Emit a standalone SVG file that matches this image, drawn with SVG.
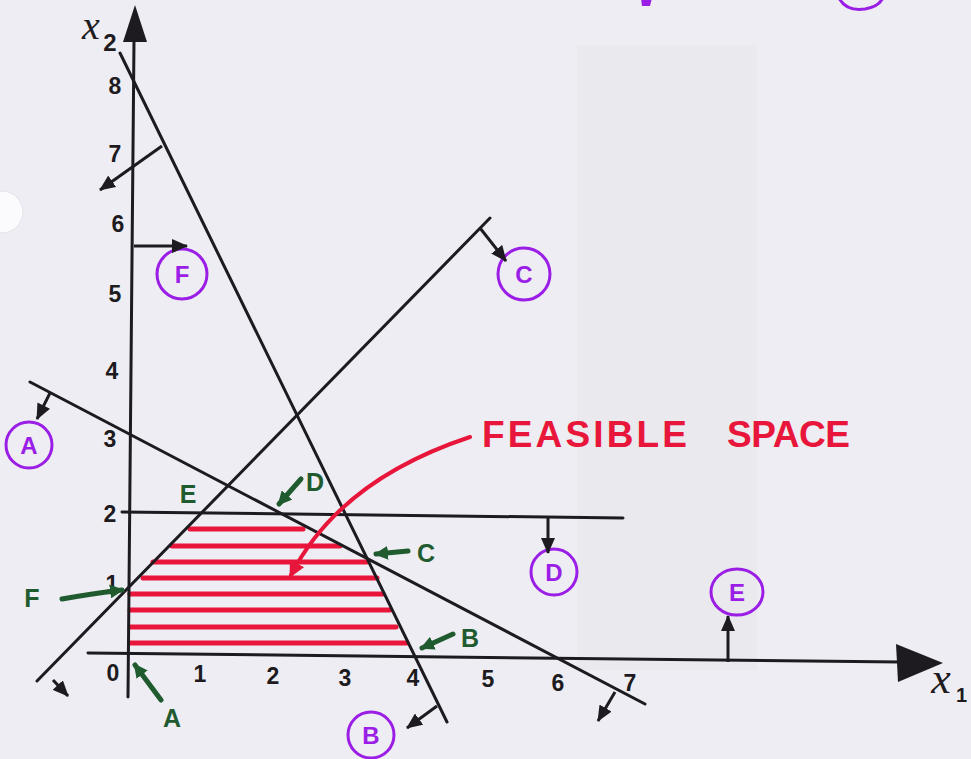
<svg xmlns="http://www.w3.org/2000/svg" width="971" height="759" viewBox="0 0 971 759">
<style>
.ln{stroke:#1d1b20;stroke-width:3;fill:none;stroke-linecap:round}
.dir{stroke:#1d1b20;stroke-width:3;fill:none;marker-end:url(#bk)}
.num{font-family:"Liberation Sans",Arial,sans-serif;font-size:23px;font-weight:bold;fill:#1d1b20;text-anchor:middle}
.pc{stroke:#9b1ee6;stroke-width:3;fill:none}
.pt{font-family:"Liberation Sans",Arial,sans-serif;font-size:24px;font-weight:bold;fill:#9b1ee6;text-anchor:middle}
.ga{stroke:#1f5b2e;stroke-width:5;fill:none;stroke-linecap:round;marker-end:url(#gr)}
.gt{font-family:"Liberation Sans",Arial,sans-serif;font-size:25px;font-weight:bold;fill:#1f5b2e;text-anchor:middle}
.hat{stroke:#e8163a;stroke-width:5;stroke-linecap:round}
</style>
<defs>
<marker id="bk" viewBox="0 0 16 14" markerWidth="16" markerHeight="14" refX="15" refY="7" orient="auto" markerUnits="userSpaceOnUse"><path d="M0,0 L16,7 L0,14 z" fill="#1d1b20"/></marker>
<marker id="gr" viewBox="0 0 14 14" markerWidth="14" markerHeight="14" refX="12" refY="7" orient="auto" markerUnits="userSpaceOnUse"><path d="M0,0 L14,7 L0,14 z" fill="#1f5b2e"/></marker>
<marker id="rd" viewBox="0 0 16 16" markerWidth="16" markerHeight="16" refX="13" refY="8" orient="auto" markerUnits="userSpaceOnUse"><path d="M0,0 L16,8 L0,16 z" fill="#e8163a"/></marker>
</defs>
<rect width="971" height="759" fill="#eeedf3"/>
<rect x="577" y="45" width="180" height="625" fill="#e4e5e9" opacity="0.45"/>
<circle cx="2" cy="212" r="21" fill="#fbfbfd" stroke="#e2e2e8" stroke-width="1"/>
<g id="top-marks">
<path d="M641,-2 L652,-2 L650,6 L642,6 z" fill="#9b1ee6"/>
<path d="M838,-4 Q845,12 865,9 Q882,6 884,-6" class="pc"/>
</g>
<g id="hatching">
<line class="hat" x1="190" y1="529" x2="303" y2="529"/>
<line class="hat" x1="172" y1="546" x2="340" y2="546"/>
<line class="hat" x1="153" y1="562" x2="367" y2="562"/>
<line class="hat" x1="143" y1="578" x2="377" y2="578"/>
<line class="hat" x1="130" y1="594" x2="383" y2="594"/>
<line class="hat" x1="130" y1="610" x2="390" y2="610"/>
<line class="hat" x1="130" y1="627" x2="396" y2="627"/>
<line class="hat" x1="130" y1="643" x2="407" y2="643"/>
</g>
<g id="axes">
<line class="ln" x1="134" y1="40" x2="128" y2="697"/>
<polygon points="135,5 123,42 147,42" fill="#1d1b20"/>
<line class="ln" x1="88" y1="653" x2="900" y2="662"/>
<polygon points="943,663 896,644 898,682" fill="#1d1b20"/>
<text x="91" y="39" font-family="Liberation Serif,serif" font-style="italic" font-size="40" fill="#1d1b20" text-anchor="middle">x</text>
<text x="110" y="51" font-family="Liberation Sans,Arial,sans-serif" font-weight="bold" font-size="24" fill="#1d1b20" text-anchor="middle">2</text>
<text x="941" y="693" font-family="Liberation Serif,serif" font-style="italic" font-size="44" fill="#1d1b20" text-anchor="middle">x</text>
<text x="956" y="702" font-family="Liberation Sans,Arial,sans-serif" font-weight="bold" font-size="20" fill="#1d1b20">1</text>
</g>
<g id="ticks">
<text class="num" x="115" y="94">8</text>
<text class="num" x="115" y="162">7</text>
<text class="num" x="118" y="232">6</text>
<text class="num" x="115" y="302">5</text>
<text class="num" x="112" y="379">4</text>
<text class="num" x="110" y="447">3</text>
<text class="num" x="110" y="522">2</text>
<text class="num" x="112" y="592" font-size="18">1</text>
<text class="num" x="113" y="681">0</text>
<text class="num" x="200" y="682">1</text>
<text class="num" x="273" y="684">2</text>
<text class="num" x="345" y="686">3</text>
<text class="num" x="413" y="686">4</text>
<text class="num" x="488" y="687">5</text>
<text class="num" x="558" y="691">6</text>
<text class="num" x="630" y="691">7</text>
</g>
<g id="constraint-A">
<line class="ln" x1="30" y1="382" x2="645" y2="704"/>
<circle class="pc" cx="29" cy="445" r="23"/>
<text class="pt" x="29" y="454">A</text>
</g>
<g id="constraint-B">
<line class="ln" x1="120" y1="53" x2="447" y2="722"/>
<circle class="pc" cx="371" cy="735" r="23"/>
<text class="pt" x="371" y="744">B</text>
</g>
<g id="constraint-C">
<line class="ln" x1="37" y1="681" x2="490" y2="218"/>
<circle class="pc" cx="524" cy="274" r="26"/>
<text class="pt" x="524" y="283">C</text>
</g>
<g id="constraint-D">
<line class="ln" x1="122" y1="512" x2="623" y2="518"/>
<circle class="pc" cx="554" cy="572" r="23"/>
<text class="pt" x="554" y="581">D</text>
</g>
<g id="constraint-E">
<ellipse class="pc" cx="737" cy="592" rx="26" ry="23"/>
<text class="pt" x="737" y="601">E</text>
</g>
<g id="constraint-F">
<circle class="pc" cx="182" cy="274" r="25"/>
<text class="pt" x="182" y="283">F</text>
</g>
<g id="corner-labels">
<text class="gt" x="188" y="503">E</text>
<text class="gt" x="315" y="491">D</text>
<text class="gt" x="426" y="562">C</text>
<text class="gt" x="470" y="647">B</text>
<text class="gt" x="32" y="607">F</text>
<text class="gt" x="172" y="727">A</text>
</g>
<g id="feasible-label">
<text font-family="Liberation Sans,Arial,sans-serif" font-size="37" font-weight="bold" fill="#e8163a" y="447"><tspan x="482" textLength="205" lengthAdjust="spacing">FEASIBLE</tspan><tspan x="727" textLength="123" lengthAdjust="spacing">SPACE</tspan></text>
</g>
<g id="connectors">
<line class="dir" x1="50" y1="393" x2="37" y2="419"/>
<line class="dir" x1="615" y1="692" x2="598" y2="721"/>
<line class="dir" x1="162" y1="146" x2="100" y2="190"/>
<line class="dir" x1="437" y1="706" x2="407" y2="728"/>
<line class="dir" x1="480" y1="228" x2="506" y2="261"/>
<line class="dir" x1="53" y1="680" x2="68" y2="696"/>
<line class="dir" x1="548" y1="518" x2="548" y2="553"/>
<line class="dir" x1="728" y1="662" x2="728" y2="616"/>
<line class="dir" x1="134" y1="246" x2="187" y2="246"/>
<line class="ga" x1="301" y1="479" x2="279" y2="504"/>
<line class="ga" x1="408" y1="551" x2="376" y2="554"/>
<line class="ga" x1="453" y1="634" x2="422" y2="648"/>
<path class="ga" d="M62,599 Q90,594 122,590"/>
<line class="ga" x1="161" y1="700" x2="135" y2="665"/>
<path d="M470,437 Q340,480 291,575" stroke="#e8163a" stroke-width="4" fill="none" stroke-linecap="round" marker-end="url(#rd)"/>
</g>
</svg>
